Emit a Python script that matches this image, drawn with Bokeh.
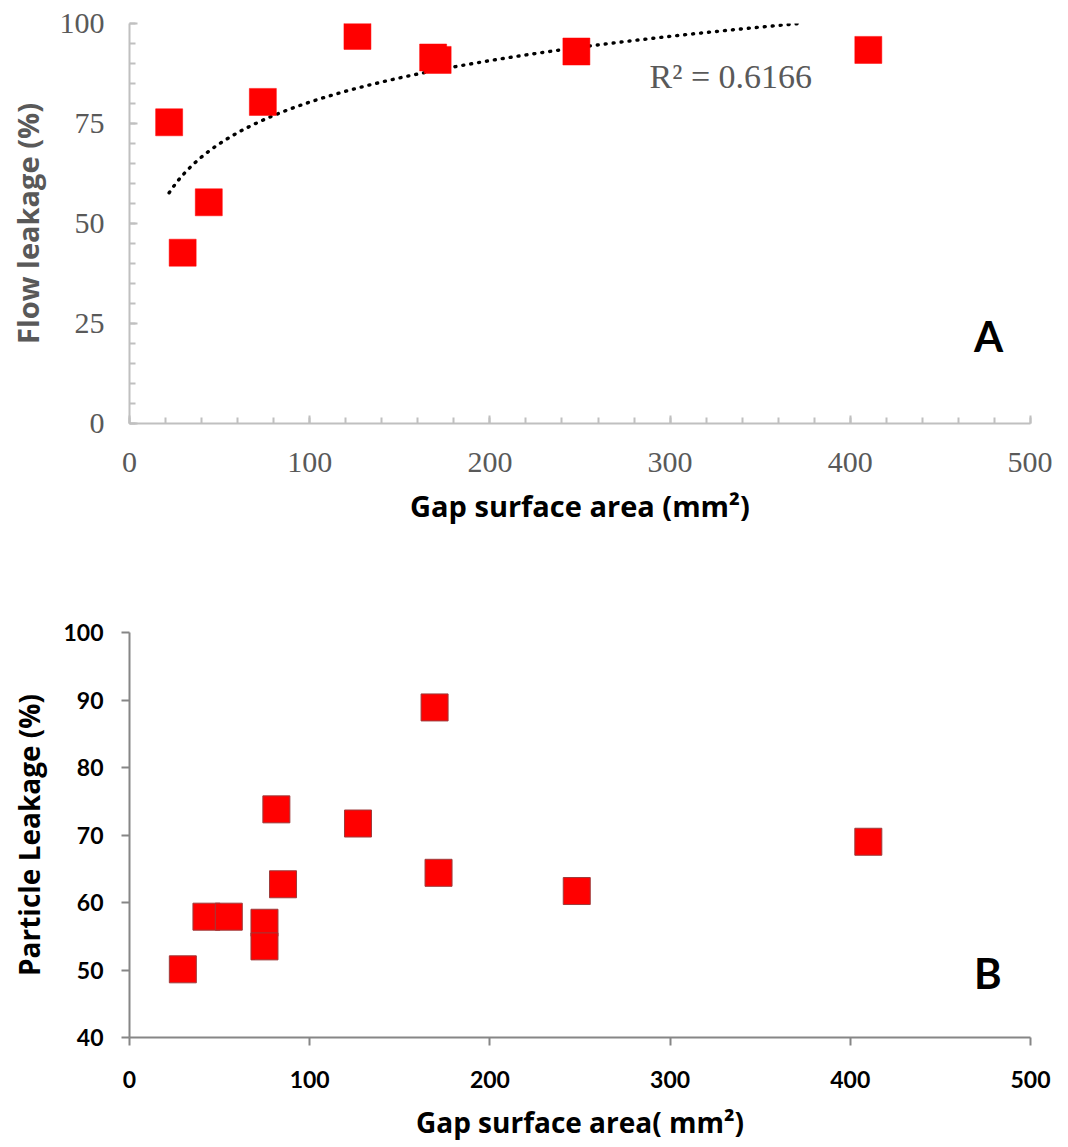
import numpy as np
from bokeh.plotting import figure
from bokeh.layouts import column
from bokeh.models import Label, SingleIntervalTicker
from bokeh.embed import file_html
from bokeh.resources import INLINE

# ---- data ----
# Panel A: flow leakage vs gap surface area
gap_a = [22.0, 29.5, 44.0, 74.0, 126.5, 168.5, 171.0, 248.0, 410.0]
flow_leak = [75.3, 42.7, 55.3, 80.4, 96.9, 91.5, 90.9, 93.0, 93.4]
trend_end = 371.0
r2_text = "R\u00b2 = 0.6166"

# Panel B: particle leakage vs gap surface area
gap_b = [29.6, 42.7, 55.1, 74.9, 74.9, 81.5, 85.2, 126.8, 169.3, 171.5, 248.2, 410.0]
particle_leak = [50.1, 57.9, 57.9, 57.0, 53.5, 73.8, 62.7, 71.7, 88.9, 64.4, 61.7, 69.0]

W = 1052
HA = 580
HB = 563

# ---------------- Panel A ----------------
pA = figure(width=W, height=HA, x_range=(0, 500), y_range=(0, 100),
            output_backend="svg", toolbar_location=None,
            min_border_left=127, min_border_right=22, min_border_top=23,
            min_border_bottom=HA - 23 - 400)
pA.grid.visible = False
pA.outline_line_color = None
pA.background_fill_color = "white"
pA.border_fill_color = "white"

pA.xaxis.ticker = SingleIntervalTicker(interval=100, num_minor_ticks=5)
pA.yaxis.ticker = SingleIntervalTicker(interval=25, num_minor_ticks=5)
for ax in (pA.xaxis, pA.yaxis):
    ax.axis_line_color = "#c0c0c0"
    ax.axis_line_width = 2
    ax.major_tick_line_color = "#c0c0c0"
    ax.minor_tick_line_color = "#c0c0c0"
    ax.major_tick_line_width = 2
    ax.minor_tick_line_width = 2
    ax.major_tick_in = 8
    ax.major_tick_out = 0
    ax.minor_tick_in = 6
    ax.minor_tick_out = 0
    ax.major_label_text_font = "Liberation Serif"
    ax.major_label_text_font_size = "30px"
    ax.major_label_text_color = "#595959"
    ax.axis_label_text_font = "Open Sans"
    ax.axis_label_text_font_style = "bold"
    ax.axis_label_text_font_size = "29px"
pA.xaxis.major_label_standoff = 29
pA.yaxis.major_label_standoff = 25
pA.xaxis.axis_label = "Gap surface area (mm\u00b2)"
pA.xaxis.axis_label_text_color = "black"
pA.xaxis.axis_label_standoff = 11
pA.yaxis.axis_label = "Flow leakage (%)"
pA.yaxis.axis_label_text_color = "#595959"
pA.yaxis.axis_label_standoff = 10

# logarithmic trendline fitted to the points
coef = np.polyfit(np.log(gap_a), flow_leak, 1)
tx = np.linspace(min(gap_a), trend_end, 300)
ty = coef[0] * np.log(tx) + coef[1]
pA.line(tx, ty, line_color="black", line_width=3.4, line_dash="1 7",
        line_cap="round")

pA.scatter(x=gap_a, y=flow_leak, marker="square", size=27,
           fill_color="#ff0000", line_color="#ff0000", line_width=0.5)

pA.add_layout(Label(x=288.6, y=86.7, text=r2_text, text_font="Liberation Serif",
                    text_font_size="34px", text_color="#595959",
                    text_baseline="alphabetic", text_align="left"))
pA.add_layout(Label(x=476.8, y=22.0, text="A", text_font="Lato",
                    text_font_style="bold", text_font_size="42px",
                    text_color="black", text_align="center",
                    text_baseline="middle"))

# ---------------- Panel B ----------------
pB = figure(width=W, height=HB, x_range=(0, 500), y_range=(40, 100),
            output_backend="svg", toolbar_location=None,
            min_border_left=129, min_border_right=21, min_border_top=52,
            min_border_bottom=HB - 52 - 417)
pB.grid.visible = False
pB.outline_line_color = None
pB.background_fill_color = "white"
pB.border_fill_color = "white"

pB.xaxis.ticker = SingleIntervalTicker(interval=100, num_minor_ticks=0)
pB.yaxis.ticker = SingleIntervalTicker(interval=10, num_minor_ticks=0)
for ax in (pB.xaxis, pB.yaxis):
    ax.axis_line_color = "#868686"
    ax.axis_line_width = 2
    ax.major_tick_line_color = "#868686"
    ax.major_tick_line_width = 2
    ax.major_tick_in = 0
    ax.major_tick_out = 8
    ax.minor_tick_line_color = None
    ax.major_label_text_font = "Lato"
    ax.major_label_text_font_style = "bold"
    ax.major_label_text_font_size = "23px"
    ax.major_label_text_color = "black"
    ax.axis_label_text_font = "Open Sans"
    ax.axis_label_text_font_style = "bold"
    ax.axis_label_text_font_size = "28px"
    ax.axis_label_text_color = "black"
pB.xaxis.major_label_standoff = 25
pB.yaxis.major_label_standoff = 18
pB.xaxis.axis_label = "Gap surface area( mm\u00b2)"
pB.xaxis.axis_label_standoff = 12
pB.yaxis.axis_label = "Particle Leakage (%)"
pB.yaxis.axis_label_standoff = 12

pB.scatter(x=gap_b, y=particle_leak, marker="square", size=27,
           fill_color="#ff0000", line_color="#9e3b3b", line_width=1)

pB.add_layout(Label(x=476.3, y=49.5, text="B", text_font="Lato",
                    text_font_style="bold", text_font_size="42px",
                    text_color="black", text_align="center",
                    text_baseline="middle"))

layout = column(pA, pB, spacing=0)
open("out.html", "w").write(file_html(layout, INLINE))
